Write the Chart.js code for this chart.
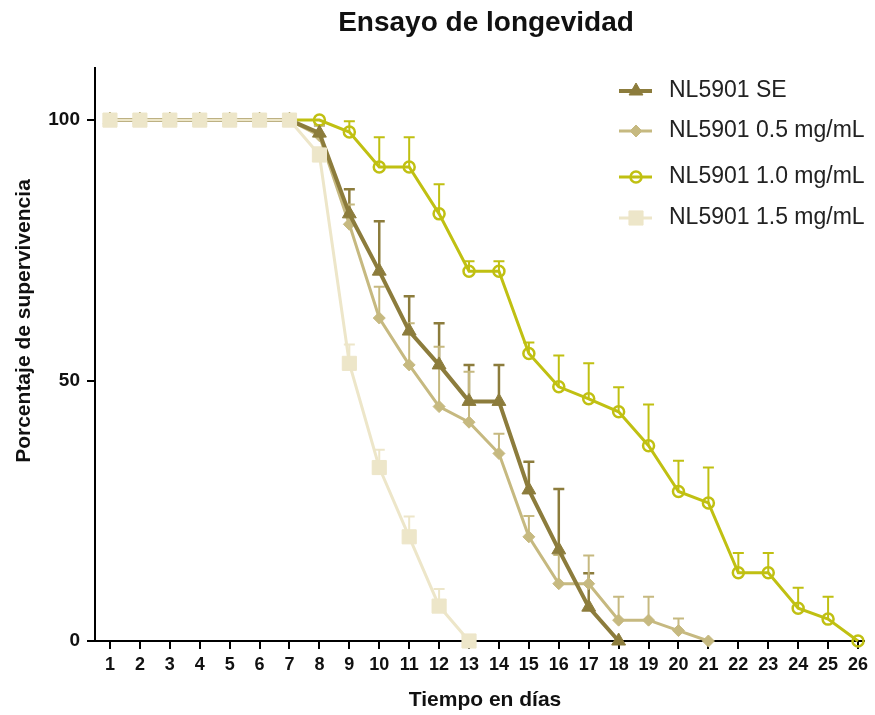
<!DOCTYPE html>
<html lang="es">
<head>
<meta charset="UTF-8">
<title>Ensayo de longevidad</title>
<script src="https://cdn.jsdelivr.net/npm/chart.js"></script>
<style>
    body { margin: 0; background: #fff; }
    #wrap { width: 875px; height: 715px; }
</style>
</head>
<body>
<div id="wrap"><canvas id="chart" width="875" height="715"></canvas></div>
<script>
    // dias (eje x) y ticks del eje y
    const dias = [1, 2, 3, 4, 5, 6, 7, 8, 9, 10, 11, 12, 13, 14, 15, 16, 17, 18, 19, 20, 21, 22, 23, 24, 25, 26];
    const yTicks = [0, 50, 100];

    // % supervivencia por serie (desde el dia 1)
    const se      = [100, 100, 100, 100, 100, 100, 100, 97.5, 82, 71, 59.5, 53, 46, 46, 29, 17.5, 6.5, 0];
    const seErr   = [0, 0, 0, 0, 0, 0, 0, 1.5, 4.7, 9.6, 6.7, 8, 7, 7, 5.4, 11.7, 6.5, 0];
    const d05     = [100, 100, 100, 100, 100, 100, 100, 97, 80, 62, 53, 45, 42, 36, 20, 11, 11, 4, 4, 2, 0];
    const d05Err  = [0, 0, 0, 0, 0, 0, 0, 2, 3.8, 6, 8, 11.5, 9.7, 3.8, 4, 5.5, 5.4, 4.5, 4.5, 2.3, 0];
    const d10     = [100, 100, 100, 100, 100, 100, 100, 100, 97.7, 91, 91, 82, 71, 71, 55.2, 48.8, 46.5, 44, 37.5, 28.7, 26.5, 13.1, 13.1, 6.3, 4.2, 0];
    const d10Err  = [0, 0, 0, 0, 0, 0, 0, 0, 2.1, 5.7, 5.7, 5.7, 1.9, 1.9, 2.1, 6, 6.8, 4.7, 7.9, 5.9, 6.8, 3.8, 3.8, 3.9, 4.3, 0];
    const d15     = [100, 100, 100, 100, 100, 100, 100, 93.3, 53.3, 33.3, 20, 6.7, 0];
    const d15Err  = [0, 0, 0, 0, 0, 0, 0, 1.5, 3.6, 3.4, 3.9, 3.3, 0];

    const nombres = ['NL5901 SE', 'NL5901 0.5 mg/mL', 'NL5901 1.0 mg/mL', 'NL5901 1.5 mg/mL'];
    const colores = ['#8c7c3c', '#c6b980', '#c0c012', '#ede6c9'];

    Chart.defaults.font.family = '"Liberation Sans", Arial, sans-serif';

    function puntos(vals) {
        return vals.map((v, i) => ({ x: dias[i], y: v }));
    }

    // barras de error (solo hacia arriba)
    const errorBars = {
        id: 'errorBars',
        beforeDatasetsDraw(chart) {
            const ctx = chart.ctx;
            const yScale = chart.scales.y;
            chart.data.datasets.forEach((ds, di) => {
                const meta = chart.getDatasetMeta(di);
                ctx.save();
                ctx.strokeStyle = ds.borderColor;
                ctx.lineWidth = di === 0 ? 2.5 : 2;
                ds.errores.forEach((e, i) => {
                    if (!e) return;
                    const p = meta.data[i];
                    const top = yScale.getPixelForValue(ds.data[i].y + e);
                    ctx.beginPath();
                    ctx.moveTo(p.x, p.y);
                    ctx.lineTo(p.x, top);
                    ctx.moveTo(p.x - 5.5, top);
                    ctx.lineTo(p.x + 5.5, top);
                    ctx.stroke();
                });
                ctx.restore();
            });
        }
    };

    // titulo, titulos de ejes y leyenda
    const textos = {
        id: 'textos',
        afterDraw(chart) {
            const ctx = chart.ctx;
            ctx.save();
            ctx.fillStyle = '#111';
            ctx.textAlign = 'center';
            ctx.textBaseline = 'middle';
            ctx.font = 'bold 28px "Liberation Sans", Arial, sans-serif';
            ctx.fillText('Ensayo de longevidad', 486, 23);
            ctx.font = 'bold 21px "Liberation Sans", Arial, sans-serif';
            ctx.fillText('Tiempo en días', 485, 700);
            ctx.translate(24, 321);
            ctx.rotate(-Math.PI / 2);
            ctx.fillText('Porcentaje de supervivencia', 0, 0);
            ctx.restore();

            const ys = [91, 131, 177, 218];
            chart.data.datasets.forEach((ds, i) => {
                const y = ys[i];
                ctx.save();
                ctx.strokeStyle = ds.borderColor;
                ctx.lineWidth = ds.borderWidth;
                ctx.beginPath();
                ctx.moveTo(619, y);
                ctx.lineTo(652, y);
                ctx.stroke();
                ctx.fillStyle = ds.pointBackgroundColor;
                ctx.strokeStyle = ds.borderColor;
                ctx.lineWidth = ds.pointBorderWidth;
                Chart.helpers.drawPoint(ctx, {
                    pointStyle: ds.pointStyle,
                    radius: ds.pointRadius,
                    borderWidth: ds.pointBorderWidth
                }, 636, y);
                ctx.fillStyle = '#222';
                ctx.font = '23px "Liberation Sans", Arial, sans-serif';
                ctx.textAlign = 'left';
                ctx.textBaseline = 'middle';
                ctx.fillText(nombres[i], 669, y);
                ctx.restore();
            });
        }
    };

    new Chart(document.getElementById('chart'), {
        type: 'line',
        data: {
            datasets: [
                {
                    label: nombres[0], data: puntos(se), errores: seErr,
                    borderColor: colores[0], backgroundColor: colores[0],
                    pointBackgroundColor: colores[0], borderWidth: 4,
                    pointStyle: 'triangle', pointRadius: 8, pointBorderWidth: 1, order: 1
                },
                {
                    label: nombres[1], data: puntos(d05), errores: d05Err,
                    borderColor: colores[1], backgroundColor: colores[1],
                    pointBackgroundColor: colores[1], borderWidth: 3,
                    pointStyle: 'rectRot', pointRadius: 6, pointBorderWidth: 1, order: 2
                },
                {
                    label: nombres[2], data: puntos(d10), errores: d10Err,
                    borderColor: colores[2], backgroundColor: 'rgba(0,0,0,0)',
                    pointBackgroundColor: 'rgba(0,0,0,0)', borderWidth: 3,
                    pointStyle: 'circle', pointRadius: 5.5, pointBorderWidth: 2.5, order: 3
                },
                {
                    label: nombres[3], data: puntos(d15), errores: d15Err,
                    borderColor: colores[3], backgroundColor: colores[3],
                    pointBackgroundColor: colores[3], borderWidth: 3,
                    pointStyle: 'rect', pointRadius: 10, pointBorderWidth: 1, order: 0
                }
            ]
        },
        options: {
            responsive: false,
            animation: false,
            layout: { padding: { top: 68, right: 3, left: 0, bottom: 0 } },
            elements: { line: { tension: 0 } },
            datasets: { line: { clip: false } },
            plugins: {
                legend: { display: false },
                title: { display: false },
                tooltip: { enabled: false }
            },
            scales: {
                x: {
                    type: 'linear',
                    min: 0.5,
                    max: 26.2,
                    afterBuildTicks: (scale) => { scale.ticks = dias.map(v => ({ value: v })); },
                    afterFit: (scale) => { scale.height = 74; },
                    grid: { drawOnChartArea: false, drawTicks: true, tickLength: 8, color: '#000', lineWidth: 2 },
                    border: { color: '#000', width: 2 },
                    ticks: { color: '#111', font: { size: 18, weight: 'bold' }, padding: 5, maxRotation: 0, autoSkip: false }
                },
                y: {
                    min: 0,
                    max: 110,
                    afterBuildTicks: (scale) => { scale.ticks = yTicks.map(v => ({ value: v })); },
                    afterFit: (scale) => { scale.width = 95; },
                    grid: { drawOnChartArea: false, drawTicks: true, tickLength: 8, color: '#000', lineWidth: 2 },
                    border: { color: '#000', width: 2 },
                    ticks: { color: '#111', font: { size: 19, weight: 'bold' }, padding: 7 }
                }
            }
        },
        plugins: [errorBars, textos]
    });
</script>
</body>
</html>
